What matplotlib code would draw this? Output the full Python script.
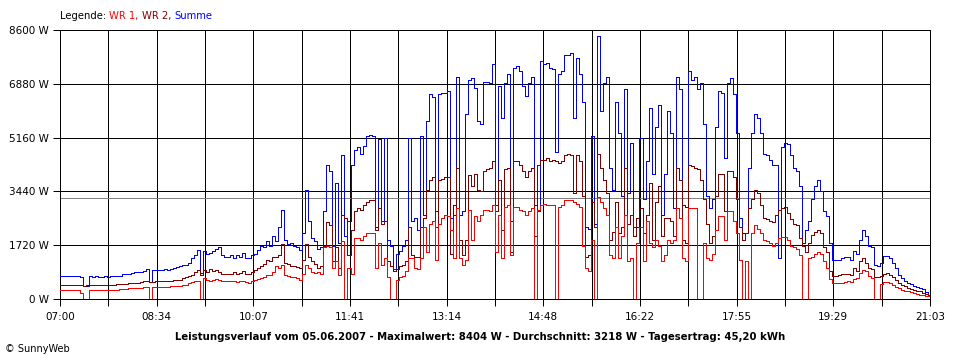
import numpy as np
import matplotlib
matplotlib.use("Agg")
import matplotlib.pyplot as plt

# ---- data (W), sampled every 1/16 of a grid interval (~2.93 min) from 07:00 to 21:03 ----
summe = [
    # 07:00 - 09:21
    730, 740, 730, 740, 720, 730, 720, 700, 420, 420, 720, 700, 720, 710, 700, 720,
    710, 720, 720, 730, 730, 790, 800, 800, 820, 850, 850, 870, 900, 950, 530, 930,
    930, 930, 940, 950, 940, 960, 1000, 1010, 1050, 1100, 1090, 1150, 1300, 1400, 1560, 820,
    # 09:21 - 11:41
    1540, 1450, 1480, 1520, 1600, 1650, 1400, 1330, 1350, 1400, 1320, 1420, 1330, 1460, 1310, 1300,
    1400, 1450, 1560, 1700, 1650, 1850, 1700, 2000, 1850, 2300, 2850, 1900, 1750, 1780, 1700, 1650,
    1580, 2100, 3500, 2500, 1950, 1850, 1600, 1650, 2800, 4300, 4100, 1700, 3700, 1800, 4600, 2000,
    # 11:41 - 14:02
    2500, 4300, 4750, 4850, 4650, 4900, 5200, 5250, 5200, 2300, 5100, 2500, 5150, 1900, 1700, 950,
    1450, 1550, 1700, 1900, 5150, 2500, 2600, 2200, 5200, 2700, 5700, 6550, 6450, 2800, 6550, 6600,
    6600, 6650, 2600, 3000, 7100, 2700, 2800, 5900, 7000, 7050, 6750, 5700, 5600, 6950, 6950, 6900,
    # 14:02 - 16:22
    7500, 3000, 6800, 5800, 6900, 7200, 2500, 7400, 7450, 7300, 6800, 6500, 6900, 7100, 3000, 2800,
    7600, 7500, 7550, 7400, 7350, 4700, 7200, 7300, 7800, 7800, 7850, 5800, 7700, 7200, 6300, 2300,
    2250, 5200, 2400, 8400, 6000, 6900, 7100, 4200, 3500, 6300, 5300, 3300, 6700, 3400, 5000, 2300,
    # 16:22 - 18:43
    2300, 5150, 3200, 4400, 6100, 4000, 5500, 6200, 2700, 4000, 6000, 5300, 2900, 7100, 6700, 3000,
    2950, 7300, 7000, 7100, 6700, 6900, 5600, 3300, 2900, 3200, 5500, 6650, 6600, 4500, 6900, 7050,
    6550, 5300, 2600, 2100, 2100, 4200, 5300, 5900, 5800, 5300, 4650, 4600, 4450, 4300, 4300, 1300,
    # 18:43 - 21:03
    4850, 5000, 4950, 4600, 4200, 4100, 3600, 1800, 2200, 2500, 3200, 3600, 3800, 3450, 2800, 2650,
    1800, 1250, 1250, 1250, 1300, 1350, 1350, 1250, 1550, 1450, 1900, 2200, 2000, 1700, 1650, 1100,
    1050, 1150, 1370, 1380, 1300, 1150, 1000, 764, 658, 573, 520, 478, 414, 393, 360, 318,
    233, 127,
]

wr2 = [
    # 07:00 - 09:21
    440, 450, 440, 450, 450, 440, 440, 440, 430, 440, 440, 450, 440, 450, 440, 450,
    440, 450, 460, 470, 480, 490, 490, 500, 500, 510, 520, 540, 560, 560, 550, 550,
    560, 560, 560, 560, 570, 590, 600, 610, 620, 680, 700, 740, 760, 850, 920, 780,
    # 09:21 - 11:41
    920, 870, 950, 900, 920, 850, 800, 790, 810, 790, 860, 800, 820, 900, 800, 810,
    870, 920, 1000, 1050, 1120, 1250, 1200, 1350, 1350, 1400, 1750, 1150, 1120, 1050, 1070, 1020,
    980, 1250, 1770, 1350, 1200, 1120, 1000, 1050, 1700, 2450, 2350, 1200, 1650, 1000, 2700, 2600,
    # 11:41 - 14:02
    1400, 2200, 2800, 2900, 2850, 3000, 3100, 3150, 3150, 2200, 2900, 2400, 2500, 1200, 1050, 880,
    950, 1050, 1100, 1200, 2300, 1400, 1350, 1350, 2300, 2600, 3500, 3800, 3900, 2300, 3800, 3850,
    3900, 3900, 1450, 2700, 4200, 1900, 1400, 1900, 3950, 3600, 4000, 3500, 3450, 4100, 4150, 4200,
    # 14:02 - 16:22
    4400, 2800, 3800, 2200, 4150, 4200, 1500, 4400, 4400, 4300, 4100, 3900, 4100, 4200, 2000, 4300,
    4450, 4450, 4500, 4400, 4450, 4400, 4350, 4400, 4600, 4650, 4600, 3400, 4600, 4400, 3300, 1350,
    1400, 3100, 2300, 4650, 4200, 3800, 3400, 1900, 2150, 3100, 2100, 2300, 4200, 2400, 2700, 2000,
    # 16:22 - 18:43
    2600, 2900, 2100, 2700, 3700, 1900, 3100, 3600, 2000, 2600, 2600, 2500, 2000, 4200, 3800, 1900,
    1800, 4300, 4250, 4200, 4150, 3800, 3200, 2400, 1800, 2000, 3300, 4000, 4000, 2800, 4100, 4100,
    3900, 3200, 2300, 1900, 2100, 2900, 3200, 3500, 3400, 3000, 2600, 2550, 2500, 2450, 2700, 2850,
    # 18:43 - 21:03
    2900, 2950, 2750, 2550, 2400, 2350, 1950, 1700, 1500, 1800, 2050, 2150, 2200, 2100, 1650, 1500,
    900, 750, 720, 760, 790, 810, 810, 760, 1000, 900, 1200, 1300, 1150, 1000, 970, 700,
    700, 750, 800, 820, 780, 700, 600, 500, 450, 400, 340, 320, 290, 260, 240, 200,
    170, 140,
]

wr1 = [
    # 07:00 - 09:21
    280, 290, 280, 280, 280, 280, 280, 200, 0, 0, 280, 280, 280, 290, 290, 290,
    290, 290, 290, 300, 310, 330, 330, 340, 340, 350, 360, 360, 370, 370, 0, 370,
    370, 370, 380, 380, 390, 400, 400, 410, 420, 440, 450, 500, 530, 560, 580, 0,
    # 09:21 - 11:41
    660, 620, 590, 620, 640, 600, 580, 570, 560, 560, 570, 540, 560, 580, 540, 520,
    580, 620, 640, 680, 700, 760, 780, 850, 1050, 1000, 1080, 780, 720, 700, 700, 670,
    620, 800, 1100, 980, 850, 820, 870, 800, 1650, 1700, 1650, 1000, 1200, 780, 1850, 0,
    # 11:41 - 14:02
    1000, 800, 1950, 1950, 1900, 2000, 2100, 2100, 2100, 1000, 1800, 1100, 1300, 700, 0, 0,
    620, 700, 750, 900, 1300, 1300, 1000, 950, 1300, 2300, 1500, 2400, 2500, 1250, 2400, 2600,
    2700, 2650, 2200, 1300, 2900, 1300, 1100, 1250, 2850, 1900, 2650, 2500, 2700, 2850, 2850, 2800,
    # 14:02 - 16:22
    3000, 1500, 2700, 1300, 2950, 3000, 1400, 2950, 2950, 2850, 2800, 2700, 2800, 2900, 0, 2850,
    3000, 3050, 3000, 3000, 3000, 0, 2950, 3000, 3150, 3150, 3150, 3100, 3050, 2950, 1700, 1000,
    880, 1900, 0, 3250, 3100, 2900, 2700, 1400, 1300, 2300, 1300, 2000, 2700, 1200, 1300, 0,
    # 16:22 - 18:43
    1800, 2300, 1200, 2500, 1800, 1650, 1900, 1700, 1200, 1400, 1900, 1800, 1900, 2900, 2600, 1300,
    1200, 2900, 2900, 2900, 0, 0, 1800, 1300, 1250, 1450, 2200, 2650, 2650, 1900, 2800, 2800,
    2500, 2100, 1250, 0, 1200, 0, 2100, 2350, 2250, 2100, 1900, 1850, 1800, 1700, 1800, 1950,
    # 18:43 - 21:03
    1980, 1990, 1900, 1700, 1650, 1600, 1400, 0, 0, 1300, 1350, 1450, 1500, 1450, 1200, 1000,
    650, 520, 500, 520, 520, 550, 560, 530, 650, 680, 830, 940, 900, 750, 680, 0,
    0, 490, 540, 550, 500, 440, 390, 340, 290, 270, 240, 220, 200, 170, 140, 120,
    100, 80,
]

tick_labels = ["07:00", "08:34", "10:07", "11:41", "13:14", "14:48", "16:22", "17:55", "19:29", "21:03"]
y_ticks = [0, 1720, 3440, 5160, 6880, 8600]
durchschnitt = 3218
maximalwert = 8404
tagesertrag = "45,20"
datum = "05.06.2007"

start_min, end_min = 0, 843          # 07:00 .. 21:03
n_grid = 18

# ---- figure ----
fig = plt.figure(figsize=(9.6, 3.6), dpi=100)
ax = fig.add_axes([60 / 960, (360 - 299) / 360, 870 / 960, 269 / 360])

t = np.linspace(start_min, end_min, len(summe))
grid_x = np.linspace(start_min, end_min, n_grid + 1)

LW = 0.72
for gx in grid_x:
    ax.axvline(gx, color="black", lw=LW, zorder=1, antialiased=False)
for gy in y_ticks:
    ax.axhline(gy, color="black", lw=LW, zorder=1, antialiased=False)
ax.axhline(durchschnitt, color="#808080", lw=LW, zorder=1, antialiased=False)

kw = dict(lw=LW, antialiased=False, drawstyle="steps-mid")
ax.plot(t, summe, color="#0000FF", zorder=3, **kw)
ax.plot(t, wr2, color="#800000", zorder=4, **kw)
ax.plot(t, wr1, color="#FF0000", zorder=5, **kw)

ax.set_xlim(start_min, end_min)
ax.set_ylim(0, 8600)
ax.set_xticks(grid_x)
ax.set_xticklabels([tick_labels[i // 2] if i % 2 == 0 else "" for i in range(n_grid + 1)])
ax.set_yticks(y_ticks)
ax.set_yticklabels([f"{v} W" for v in y_ticks])
ax.tick_params(axis="both", length=5, width=LW, color="black", labelsize=7.5, pad=3)
ax.tick_params(axis="x", pad=4)
for s in ax.spines.values():
    s.set_linewidth(LW)
    s.set_color("black")
    s.set_antialiased(False)

# legend line at top
fs = 7.2
x0 = 60 / 960
yl = 1 - 16 / 360
txt = fig.text(x0, yl, "Legende: ", color="black", fontsize=fs, va="center", ha="left")
fig.canvas.draw()
r = fig.canvas.get_renderer()
def nxt(prev, s, c):
    bb = prev.get_window_extent(renderer=r)
    return fig.text(bb.x1 / 960, yl, s, color=c, fontsize=fs, va="center", ha="left")
t1 = nxt(txt, "WR 1, ", "#FF0000")
t2 = nxt(t1, "WR 2, ", "#800000")
t3 = nxt(t2, "Summe", "#0000FF")

fig.text(0.5, 1 - 337 / 360,
         f"Leistungsverlauf vom {datum} - Maximalwert: {maximalwert} W - Durchschnitt: {durchschnitt} W - Tagesertrag: {tagesertrag} kWh",
         ha="center", va="center", fontsize=7.25, fontweight="bold")
fig.text(5 / 960, 1 - 349 / 360, "© SunnyWeb", ha="left", va="center", fontsize=7)

fig.savefig("out.png", dpi=100, facecolor="white")
